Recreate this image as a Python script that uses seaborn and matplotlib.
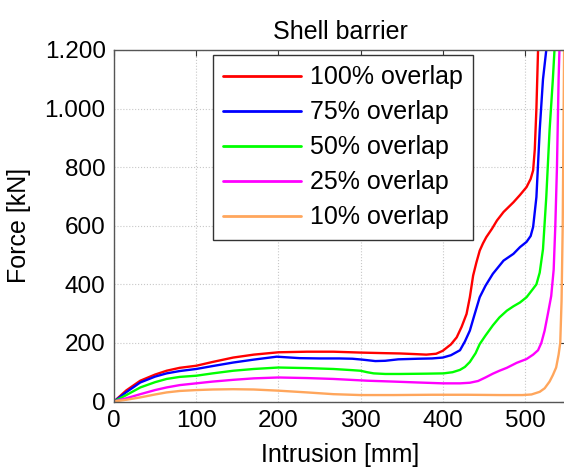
import matplotlib
matplotlib.use("Agg")
import matplotlib.pyplot as plt
from matplotlib.ticker import FuncFormatter
import seaborn as sns
import pandas as pd

# Force-intrusion curves for the shell barrier at different overlaps
x_100 = [0, 15, 32, 50, 64, 80, 100, 120, 145, 170, 200, 235, 267, 300, 330, 348, 365, 380, 392,
         400, 410, 417, 423, 429, 433, 437, 441, 445, 449, 453, 460, 466, 474, 486, 494, 502, 507,
         510, 512, 514, 516, 517]
y_100 = [0, 38, 71, 92, 105, 115, 122, 135, 150, 160, 168, 170, 170, 167, 165, 164, 162, 160, 163,
         173, 195, 219, 255, 299, 356, 430, 475, 515, 540, 561, 590, 618, 647, 680, 705, 732, 760,
         789, 860, 1000, 1200, 1300]

x_75 = [0, 15, 32, 50, 64, 80, 100, 120, 145, 170, 198, 226, 250, 274, 290, 302, 318, 330, 346,
        370, 387, 400, 410, 421, 427, 433, 438, 445, 452, 461, 474, 486, 494, 502, 507, 510, 514,
        518, 522, 526, 528]
y_75 = [0, 32, 65, 85, 96, 104, 111, 121, 133, 143, 153, 148, 147, 147, 146, 143, 138, 139, 144,
        146, 147, 150, 158, 175, 205, 242, 290, 356, 395, 436, 481, 504, 527, 545, 565, 596, 698,
        926, 1100, 1200, 1300]

x_50 = [0, 15, 32, 50, 64, 80, 100, 120, 145, 170, 200, 235, 267, 290, 300, 308, 316, 330, 348,
        380, 401, 412, 421, 427, 433, 440, 445, 452, 461, 469, 478, 486, 494, 502, 510, 514, 518,
        522, 526, 530, 534, 536, 537]
y_50 = [0, 22, 48, 66, 77, 84, 88, 96, 105, 111, 116, 114, 111, 107, 105, 100, 96, 94, 94,
        95, 96, 100, 108, 118, 135, 165, 196, 225, 260, 287, 310, 325, 338, 356, 385, 400, 440,
        520, 698, 926, 1100, 1200, 1300]

x_25 = [0, 15, 32, 50, 64, 80, 100, 120, 145, 170, 200, 235, 267, 308, 340, 369, 400, 421, 433,
        443, 452, 461, 469, 478, 490, 502, 510, 516, 520, 524, 528, 532, 535, 537, 539, 540, 541,
        542, 543]
y_25 = [0, 11, 25, 39, 48, 56, 62, 68, 74, 79, 82, 80, 77, 71, 68, 65, 62, 62, 64,
        70, 82, 95, 105, 115, 132, 145, 160, 175, 200, 242, 300, 360, 450, 600, 800, 950, 1100,
        1200, 1300]

x_10 = [0, 15, 32, 50, 64, 80, 100, 120, 145, 170, 200, 235, 267, 300, 340, 387, 430, 470, 497,
        508, 518, 524, 530, 534, 538, 541, 543, 544.6, 546, 548]
y_10 = [0, 6, 14, 24, 31, 36, 39, 41, 42, 41, 37, 31, 25, 22, 22, 23, 23, 22, 22,
        24, 33, 45, 68, 90, 116, 160, 200, 344, 600, 1300]

labels = ["100% overlap", "75% overlap", "50% overlap", "25% overlap", "10% overlap"]
colors = ["#FF0000", "#0000FF", "#00FF00", "#FF00FF", "#FFA65C"]
x_ticks = [0, 100, 200, 300, 400, 500]
y_ticks = [0, 200, 400, 600, 800, 1000, 1200]

series = [(x_100, y_100), (x_75, y_75), (x_50, y_50), (x_25, y_25), (x_10, y_10)]
frames = []
for lab, (xs, ys) in zip(labels, series):
    frames.append(pd.DataFrame({"Intrusion": xs, "Force": ys, "case": lab}))
df = pd.concat(frames, ignore_index=True)

sns.set_theme(style="white")
plt.rcParams["font.family"] = ["Liberation Sans", "DejaVu Sans"]
plt.rcParams["text.color"] = "black"
plt.rcParams["axes.labelcolor"] = "black"

fig = plt.figure(figsize=(5.64, 4.67), dpi=100)
ax = fig.add_axes([114 / 564, 1 - 401.5 / 467, 452 / 564, 351.5 / 467])

sns.lineplot(data=df, x="Intrusion", y="Force", hue="case", hue_order=labels,
             palette=colors, sort=False, estimator=None,
             linewidth=1.7, ax=ax, legend=True)

ax.set_xlim(0, 550)
ax.set_ylim(0, 1200)
ax.set_xticks(x_ticks)
ax.set_yticks(y_ticks)
ax.yaxis.set_major_formatter(FuncFormatter(lambda v, p: f"{int(v):,}".replace(",", ".")))

fs = 18
ax.tick_params(axis="both", which="major", direction="in", length=4, width=0.8,
               colors="#333333", labelcolor="black", labelsize=17.5,
               top=True, right=True, pad=6)
ax.grid(True, color="#c8c8c8", linestyle=":", linewidth=0.8)
for s in ax.spines.values():
    s.set_color("#555555")
    s.set_linewidth(1.0)

ax.set_title("Shell barrier", fontsize=fs, pad=8, color="black")
ax.set_xlabel("Intrusion [mm]", fontsize=fs, labelpad=8, color="black")
ax.set_ylabel("Force [kN]", fontsize=fs, labelpad=10, color="black")

leg = ax.legend(loc="upper left", bbox_to_anchor=(0.219, 0.986), borderaxespad=0,
                fontsize=fs, frameon=True, fancybox=False, framealpha=1,
                handlelength=3.1, handletextpad=0.35, labelspacing=0.44,
                borderpad=0.42)
leg.get_frame().set_edgecolor("#333333")
leg.get_frame().set_linewidth(1.0)
for line in leg.get_lines():
    line.set_linewidth(2.0)
for t in leg.get_texts():
    t.set_color("black")

fig.savefig("out.png", dpi=100)
